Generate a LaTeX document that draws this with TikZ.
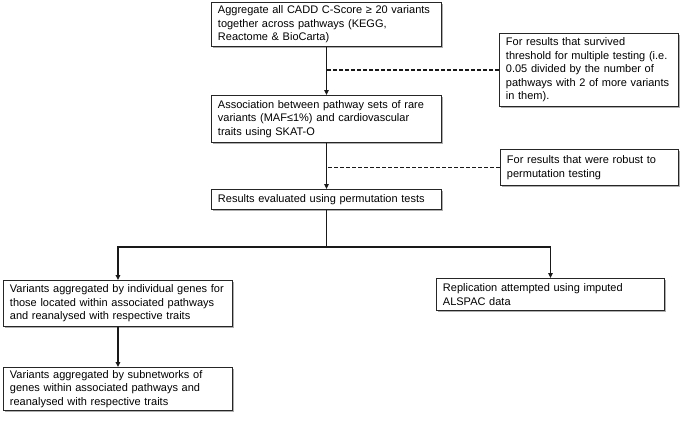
\documentclass[tikz,border=0pt]{standalone}
\usepackage{fontspec}
\setmainfont{Liberation Sans}
\usetikzlibrary{shadows,arrows.meta}
\begin{document}
\begin{tikzpicture}[x=1pt,y=-1pt,
  box/.style={draw=black!85, fill=white, line width=0.9pt, align=left, anchor=north west,
    inner xsep=6.5pt, inner ysep=2pt, font=\fontsize{11}{13.5}\selectfont,
    execute at begin node={\hyphenpenalty=10000\exhyphenpenalty=10000\hfuzz=20pt},
    drop shadow={shadow xshift=1.8pt, shadow yshift=-1.8pt, fill=black!45, opacity=0.7}},
  conn/.style={line width=1.4pt, black!90},
  arr/.style={conn, -{Triangle[length=5pt,width=4.5pt]}},
  dashline/.style={line width=1.3pt, black!90, dash pattern=on 4pt off 2pt}
]
\useasboundingbox (0,0) rectangle (685,421);
\fill[white] (0,0) rectangle (685,421);

\node[box, minimum width=230pt, minimum height=44pt, text width=217pt] (b1) at (211,2)
  {Aggregate all CADD C-Score ≥ 20 variants\\together across pathways (KEGG,\\Reactome \& BioCarta)};
\node[box, minimum width=230pt, minimum height=47pt, text width=217pt] (b2) at (211,95)
  {Association between pathway sets of rare\\variants (MAF≤1\%) and cardiovascular\\traits using SKAT-O};
\node[box, minimum width=230pt, minimum height=20pt, text width=217pt] (b3) at (211,189)
  {Results evaluated using permutation tests};

\node[box, minimum width=179pt, minimum height=73pt, text width=166pt] (n1) at (499,33)
  {For results that survived\\threshold for multiple testing (i.e.\\0.05 divided by the number of\\pathways with 2 of more variants\\in them).};
\node[box, minimum width=178pt, minimum height=36pt, text width=165pt] (n2) at (500,149)
  {For results that were robust to\\permutation testing};

\node[box, minimum width=229pt, minimum height=46pt, text width=216pt] (l1) at (3,280)
  {Variants aggregated by individual genes for\\those located within associated pathways\\and reanalysed with respective traits};
\node[box, minimum width=229pt, minimum height=43pt, text width=216pt] (l2) at (3,367)
  {Variants aggregated by subnetworks of\\genes within associated pathways and\\reanalysed with respective traits};
\node[box, minimum width=228pt, minimum height=32pt, text width=215pt] (r1) at (436,278)
  {Replication attempted using imputed\\ALSPAC data};

\coordinate (split) at (325,247);

\draw[arr] (b1.south) -- (b2.north);
\draw[arr] (b2.south) -- (b3.north);
\draw[dashline] (n1.west) -- (n1.west -| b1.south);
\draw[dashline] (n2.west) -- (n2.west -| b2.south);
\draw[conn] (b3.south) -- (b3.south |- split);
\draw[arr] (b3.south |- split) -| (l1.north);
\draw[arr] (b3.south |- split) -| (r1.north);
\draw[arr] (l1.south) -- (l2.north);
\end{tikzpicture}
\end{document}
